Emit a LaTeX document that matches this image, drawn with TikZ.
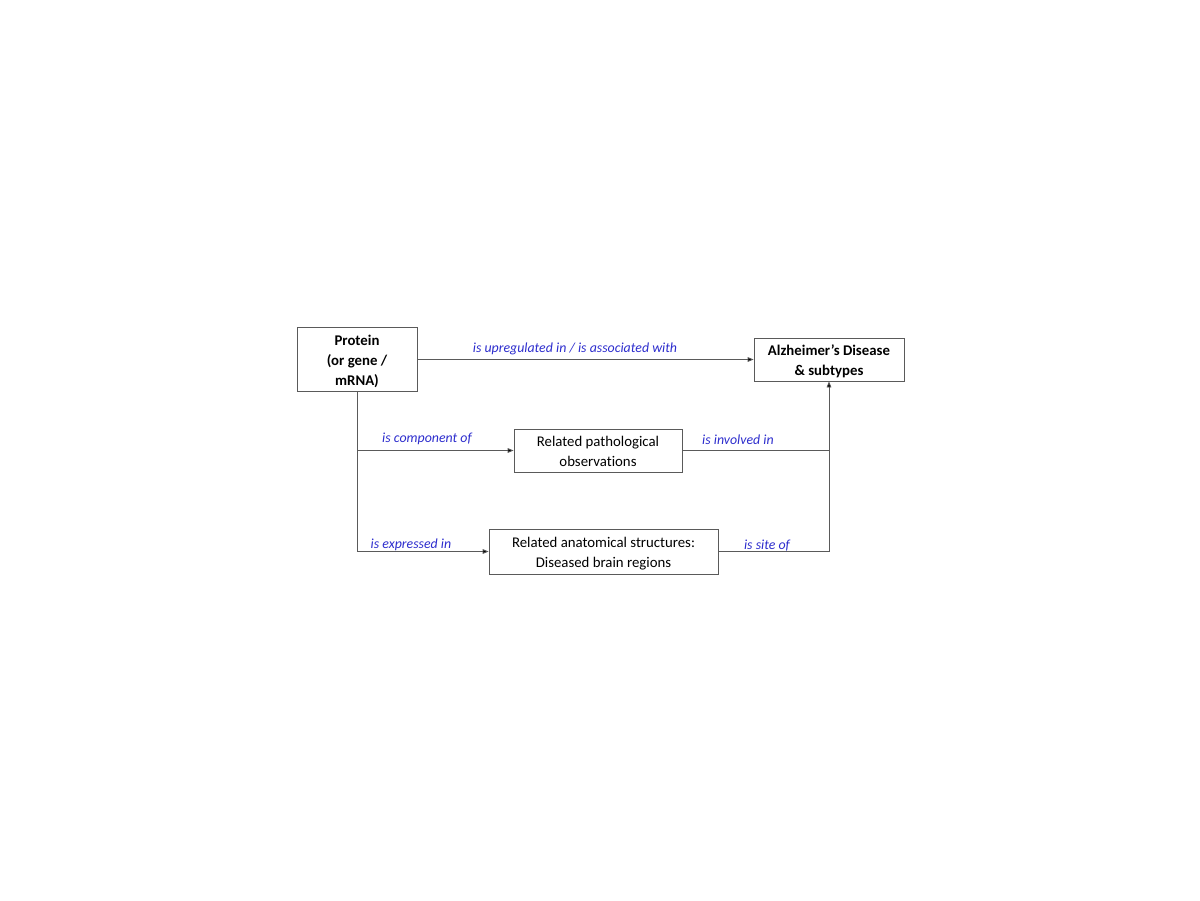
\documentclass[tikz,border=0pt]{standalone}
\usepackage{fontspec}
\setmainfont{Carlito}[Ligatures={NoCommon}]
\usetikzlibrary{arrows.meta}
\definecolor{lbl}{RGB}{45,45,205}
\definecolor{edge}{RGB}{90,90,90}
\newcommand\dntext[1]{\raisebox{-1.8pt}[\height][\depth]{\begin{tabular}{@{}c@{}}#1\end{tabular}}}
\begin{document}
\begin{tikzpicture}[x=0.75pt,y=-0.75pt,
  box/.style={draw=edge,line width=0.6pt,inner sep=0pt,align=center,font=\fontsize{11.1}{15}\selectfont},
  conn/.style={draw=edge,line width=0.6pt},
  arr/.style={conn,-{Triangle[length=4.5pt,width=3.5pt,fill=black]}},
  lab/.style={text=lbl,font=\fontsize{10.4}{12}\selectfont\itshape,inner sep=0pt}]
\useasboundingbox (0,0) rectangle (1200,900);
\node[box,minimum width=120*0.75pt,minimum height=64*0.75pt,font=\fontsize{11.1}{14.8}\selectfont\bfseries] (prot) at (357,359) {\dntext{Protein\\(or gene /\\mRNA)}};
\node[box,minimum width=150*0.75pt,minimum height=43*0.75pt,font=\fontsize{11.1}{14.8}\selectfont\bfseries] (ad) at (829,359.5) {\dntext{Alzheimer’s Disease\\\& subtypes}};
\node[box,minimum width=168*0.75pt,minimum height=43*0.75pt] (path) at (598,450.5) {\dntext{Related pathological\\observations}};
\node[box,minimum width=229*0.75pt,minimum height=45*0.75pt] (anat) at (603.5,551.5) {\dntext{Related anatomical structures:\\Diseased brain regions}};
\coordinate (b1) at (357,450.5);
\coordinate (b2) at (357,551.5);
\coordinate (c1) at (829,450.5);
\coordinate (c2) at (829,551.5);
\draw[arr] (prot.east |- ad.west) -- (ad.west);
\draw[conn] (prot.south) -- (b2);
\draw[arr] (b1) -- (path.west);
\draw[arr] (b2) -- (anat.west);
\draw[conn] (path.east) -- (c1);
\draw[conn] (anat.east) -- (c2);
\draw[arr] (c2) -- (ad.south);
\node[lab] (l1) at (575,349) {is upregulated in / is associated with};
\node[lab] (l2) at (427,439) {is component of};
\node[lab] (l3) at (738,440) {is involved in};
\node[lab] (l4) at (411,545) {is expressed in};
\node[lab] (l5) at (767,546) {is site of};
\end{tikzpicture}
\end{document}
